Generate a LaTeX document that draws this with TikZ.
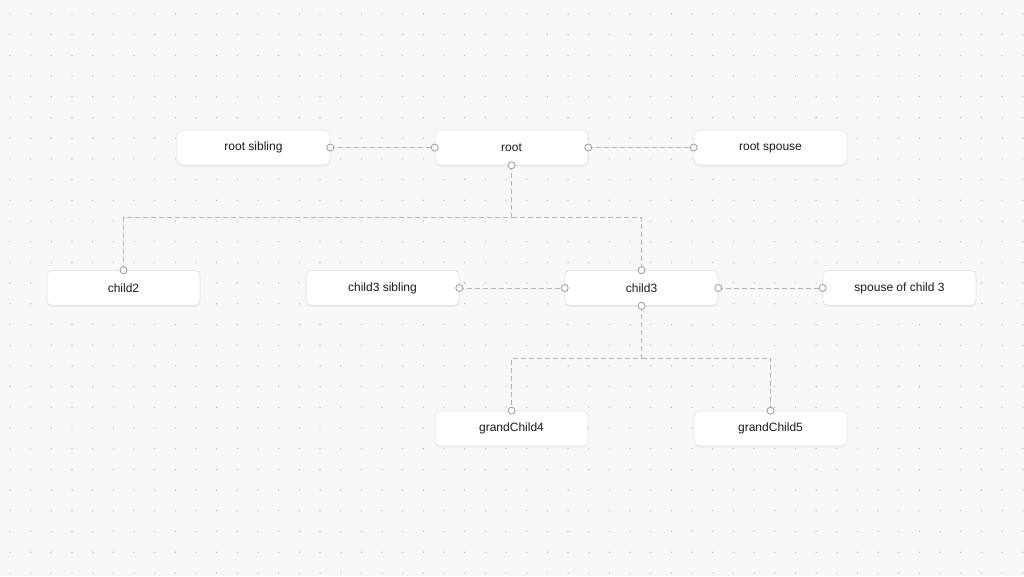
\documentclass[tikz,border=0pt]{standalone}
\usepackage{fontspec}
\setmainfont{Liberation Sans}
\usetikzlibrary{shadows}
\usetikzlibrary{calc}
\definecolor{canvas}{HTML}{F7F8FA}
\definecolor{dotgrey}{HTML}{ADB1B8}
\definecolor{linkgrey}{HTML}{B3B3B3}
\definecolor{handlegrey}{HTML}{9A9A9A}
\definecolor{cardline}{HTML}{E3E4E8}
\definecolor{ink}{HTML}{1A1A1A}

\begin{document}
\begin{tikzpicture}[x=1pt, y=-1pt,
        card/.style={rectangle, rounded corners=5pt, minimum width=153pt,
            minimum height=35pt, inner sep=0pt, fill=white, draw=cardline,
            line width=0.6pt, text=ink,
            font=\fontsize{12}{14}\selectfont,
            drop shadow={opacity=0.1, shadow xshift=0pt, shadow yshift=-1.5pt}},
        link/.style={draw=linkgrey, line width=1pt, dash pattern=on 5pt off 3pt},
        handle/.style={draw=handlegrey, fill=white, line width=0.8pt}]
        \useasboundingbox (0,0) rectangle (1024,576);
        \fill[canvas] (0,0) rectangle (1024,576);
        % dotted background
        \foreach \i in {0,...,49}
            \foreach \j in {0,...,27}
                \fill[dotgrey] (10+20.67*\i, 14+20.7*\j) circle (0.65pt);

        \node[card] (rootsib) at (253.5,147.5) {root sibling};
        \node[card] (root) at (511.5,147.5) {root};
        \node[card] (rootsp) at (770.5,147.5) {root spouse};
        \node[card] (childB) at (123.5,288) {child2};
        \node[card] (childCsib) at (382.5,288) {child3 sibling};
        \node[card] (childC) at (641.5,288) {child3};
        \node[card] (childCsp) at (899.5,288) {spouse of child 3};
        \node[card] (grandD) at (511.5,428.5) {grandChild4};
        \node[card] (grandE) at (770.5,428.5) {grandChild5};

        \coordinate (busA) at ($(root.south)!0.5!(root.south |- childC.north)$);
        \coordinate (busB) at ($(childC.south)!0.5!(childC.south |- grandD.north)$);

        \draw[link] (rootsib.east) -- (root.west);
        \draw[link] (root.east) -- (rootsp.west);
        \draw[link] (childCsib.east) -- (childC.west);
        \draw[link] (childC.east) -- (childCsp.west);
        \draw[link] (root.south) -- (busA) -| (childB.north);
        \draw[link] (busA) -| (childC.north);
        \draw[link] (childC.south) -- (busB) -| (grandD.north);
        \draw[link] (busB) -| (grandE.north);

        \foreach \h in {rootsib.east, root.west, root.east, rootsp.west,
                root.south, childB.north, childC.north, childCsib.east,
                childC.west, childC.east, childCsp.west, childC.south,
                grandD.north, grandE.north}
            \draw[handle] (\h) circle (3.5pt);
    \end{tikzpicture}
\end{document}
